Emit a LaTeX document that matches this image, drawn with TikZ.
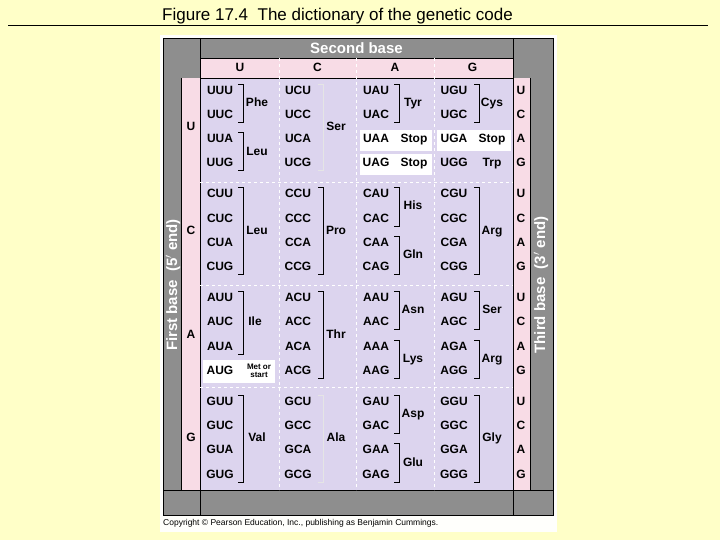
\documentclass[tikz,border=0pt]{standalone}
\usepackage{fontspec}
\setmainfont{Liberation Sans}
\definecolor{pagebg}{HTML}{FFFFC8}
\definecolor{framegray}{HTML}{8E8E8E}
\definecolor{basepink}{HTML}{F8DCE6}
\definecolor{tablelav}{HTML}{DCD4EE}
\tikzset{
  codon/.style={font=\bfseries\fontsize{12}{13}\selectfont, inner sep=0pt, text height=8.6pt, text depth=2.4pt},
  amino/.style={font=\bfseries\fontsize{12}{13}\selectfont, inner sep=0pt, text height=8.6pt, text depth=2.4pt},
  baselabel/.style={font=\bfseries\fontsize{12}{13}\selectfont, inner sep=0pt, text height=8.6pt, text depth=2.4pt},
  framelabel/.style={font=\bfseries\fontsize{15}{16}\selectfont, text=white, inner sep=0pt},
  grid line/.style={white, dashed, line width=0.8pt},
  brack/.style={line width=0.8pt},
  stopbox/.style={fill=white, draw=none}
}
% bracket: #1 = x, #2 = first row y, #3 = last row y
\newcommand{\Brack}[4][black]{\draw[brack,#1] (#2-5,#3-7) -- (#2,#3-7) -- (#2,#4+7) -- (#2-5,#4+7);}
\begin{document}
\begin{tikzpicture}[x=1pt,y=-1pt]
\useasboundingbox (0,0) rectangle (720,540);
\fill[pagebg] (0,0) rectangle (720,540);

% title
\node[anchor=base west, font=\fontsize{17}{18}\selectfont, inner sep=0pt] (title) at (162,21) {Figure 17.4\ \ The dictionary of the genetic code};
\draw[line width=0.8pt] (8,25) -- (708,25);

% frame
\fill[white!95!pagebg] (160,35) rectangle (557,532);
\fill[framegray] (163,38) rectangle (553,515);
\fill[basepink] (200,58) rectangle (513,78);
\fill[basepink] (181,78) rectangle (200,490);
\fill[basepink] (513,78) rectangle (530,490);
\fill[tablelav] (200,78) rectangle (513,490);
\draw[line width=0.8pt] (163,38) rectangle (553,515);
\draw[line width=0.8pt] (200,38) -- (200,515) (513,38) -- (513,515)
  (181,78) -- (181,490) (530,78) -- (530,490)
  (163,490) -- (553,490) (200,58) -- (513,58) (200,78) -- (513,78);

\node[framelabel] (second) at (356.5,48) {Second base};
\node[framelabel, rotate=90] (first) at (173,285) {First base\ \ (5$'$ end)};
\node[framelabel, rotate=90] (third) at (541,285) {Third base\ \ (3$'$ end)};

% dashed grid
\foreach \gx in {279,356,434} \draw[grid line] (\gx,58) -- (\gx,490);
\foreach \gy in {182,285,387} \draw[grid line] (200,\gy) -- (513,\gy);

% stop and start boxes
\fill[stopbox] (360,130) rectangle (432,151);
\fill[stopbox] (360,154) rectangle (432,175);
\fill[stopbox] (437,130) rectangle (511,151);
\fill[stopbox] (203,360) rectangle (275,383);

% second base header
\foreach \b [count=\c from 0] in {U,C,A,G}
  \node[baselabel] (sb-\b) at (240+\c*77.5,68) {\b};

% first and third base
\foreach \b [count=\i from 0] in {U,C,A,G} {
  \node[baselabel] (fb-\b) at (191,127.5+\i*103.7) {\b};
  \foreach \t [count=\r from 0] in {U,C,A,G}
    \node[baselabel] (tb-\b\t) at (521,91+\i*103.7+\r*24.3) {\t};
}

% codons
\foreach \f [count=\i from 0] in {U,C,A,G}
  \foreach \s [count=\c from 0] in {U,C,A,G}
    \foreach \t [count=\r from 0] in {U,C,A,G}
      \node[codon] (\f\s\t) at (220+\c*78,91+\i*103.7+\r*24.3) {\f\s\t};

% amino acids, block U
\node[amino] (phe) at (257,103.2) {Phe};
\node[amino] (leu1) at (257,152) {Leu};
\node[amino] (ser1) at (336,127.5) {Ser};
\node[amino] (tyr) at (413,103.2) {Tyr};
\node[amino] (stop1) at (414,139.6) {Stop};
\node[amino] (stop2) at (414,163.9) {Stop};
\node[amino] (cys) at (492,103.2) {Cys};
\node[amino] (stop3) at (492,139.6) {Stop};
\node[amino] (trp) at (492,163.9) {Trp};
\Brack{243}{91}{115.3}
\Brack{243}{139.6}{163.9}
\Brack[white!80!gray]{323}{91}{163.9}
\Brack{399}{91}{115.3}
\Brack{479}{91}{115.3}

% block C
\node[amino] (leu2) at (257,231.2) {Leu};
\node[amino] (pro) at (336,231.2) {Pro};
\node[amino] (his) at (413,206.9) {His};
\node[amino] (gln) at (413,255.5) {Gln};
\node[amino] (arg1) at (492,231.2) {Arg};
\Brack{243}{194.7}{267.6}
\Brack{323}{194.7}{267.6}
\Brack{399}{194.7}{219}
\Brack{399}{243.3}{267.6}
\Brack{479}{194.7}{267.6}

% block A
\node[amino] (ile) at (255,322.7) {Ile};
\node[font=\bfseries\fontsize{8}{8.5}\selectfont, align=center, inner sep=0pt] (met) at (259,371) {Met or\\start};
\node[amino] (thr) at (336,334.9) {Thr};
\node[amino] (asn) at (413,310.6) {Asn};
\node[amino] (lys) at (413,359.2) {Lys};
\node[amino] (ser2) at (492,310.6) {Ser};
\node[amino] (arg2) at (492,359.2) {Arg};
\Brack{243}{298.4}{347}
\Brack{323}{298.4}{371.3}
\Brack{399}{298.4}{322.7}
\Brack{399}{347}{371.3}
\Brack{479}{298.4}{322.7}
\Brack{479}{347}{371.3}

% block G
\node[amino] (val) at (257,438.6) {Val};
\node[amino] (ala) at (336,438.6) {Ala};
\node[amino] (asp) at (413,414.3) {Asp};
\node[amino] (glu) at (413,462.9) {Glu};
\node[amino] (gly) at (492,438.6) {Gly};
\Brack{243}{402.1}{475}
\Brack[white!80!gray]{323}{402.1}{475}
\Brack{399}{402.1}{426.4}
\Brack{399}{450.7}{475}
\Brack{479}{402.1}{475}

\node[anchor=west, font=\fontsize{8.5}{9}\selectfont, inner sep=0pt] (copy) at (163,523) {Copyright \textcopyright\ Pearson Education, Inc., publishing as Benjamin Cummings.};
\end{tikzpicture}
\end{document}
